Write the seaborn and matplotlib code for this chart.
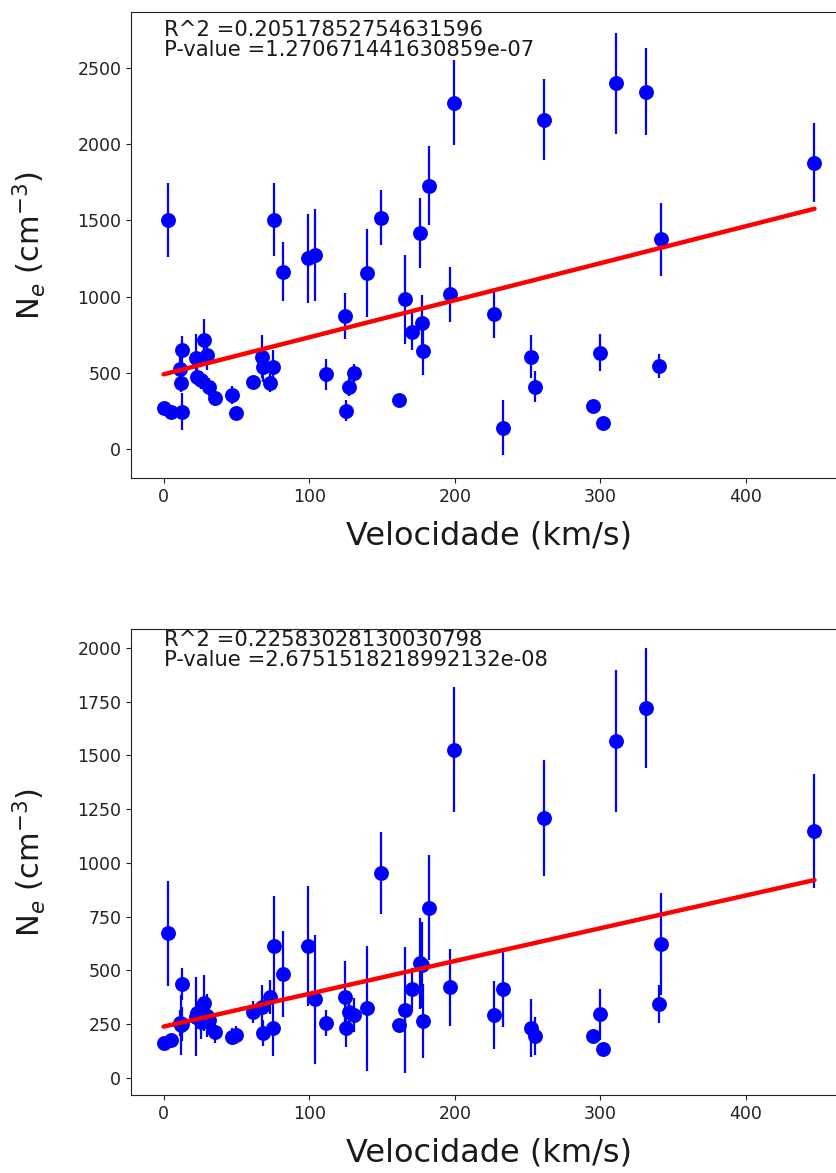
import numpy as np
import seaborn as sns
import matplotlib.pyplot as plt

# velocities (km/s), shared by both panels
velocidade = [0, 3, 5, 11, 12, 12.5, 13, 22, 23, 26, 28, 30, 31, 35.5, 47, 50,
              61.5, 67.5, 68.5, 73, 75.5, 76, 82, 99.5, 104, 111.5, 124.5, 125,
              127.5, 130.5, 139.5, 149.5, 161.5, 166, 170.5, 176, 177.5, 178,
              182, 196.5, 199.5, 227, 233, 252, 255, 261, 295, 299.5, 302,
              310.5, 331, 340.5, 341.5, 447]

# top panel: electron density and error
ne_top = [267, 1503, 245, 523, 435, 245, 650, 595, 474, 453, 715, 617, 409, 333,
          354, 238, 442, 606, 540, 435, 540, 1503, 1163, 1251, 1273, 490, 873,
          251, 409, 497, 1153, 1518, 322, 982, 770, 1419, 829, 645, 1728, 1015,
          2272, 886, 140, 606, 409, 2159, 282, 632, 170, 2399, 2345, 545, 1376,
          1879]
err_top = [15, 245, 15, 80, 60, 120, 90, 160, 60, 60, 140, 100, 60, 50, 60, 30,
           40, 140, 100, 60, 110, 240, 195, 290, 300, 100, 150, 70, 60, 60, 290,
           180, 25, 290, 120, 230, 180, 160, 260, 180, 280, 160, 180, 140, 100,
           265, 20, 120, 15, 330, 285, 80, 240, 260]

# bottom panel: electron density and error
ne_bot = [161, 673, 177, 255, 247, 250, 436, 285, 300, 260, 347, 290, 270, 215,
          192, 200, 308, 332, 208, 378, 231, 615, 484, 615, 367, 254, 375, 234,
          308, 293, 324, 952, 247, 316, 413, 533, 525, 265, 792, 422, 1526, 293,
          414, 234, 195, 1208, 195, 296, 137, 1567, 1720, 343, 622, 1149]
err_bot = [15, 243, 15, 60, 140, 80, 75, 185, 60, 80, 130, 100, 70, 50, 40, 40,
           50, 100, 60, 80, 130, 230, 200, 280, 300, 60, 170, 90, 80, 80, 290,
           190, 25, 295, 100, 210, 200, 170, 245, 180, 290, 160, 175, 135, 90,
           270, 20, 118, 15, 330, 280, 88, 237, 265]

# linear fits as drawn in the picture (intercept, slope)
fit_top = (490, 2.43)
fit_bot = (239, 1.525)

stats_top = "R^2 =0.20517852754631596\nP-value =1.270671441630859e-07"
stats_bot = "R^2 =0.22583028130030798\nP-value =2.6751518218992132e-08"

sns.set_style("ticks", {"axes.edgecolor": "#222222", "text.color": "#1a1a1a",
                        "axes.labelcolor": "#1a1a1a", "xtick.color": "#222222",
                        "ytick.color": "#222222"})

fig = plt.figure(figsize=(8.36, 11.73), dpi=100)
ax1 = fig.add_axes([0.1567, 0.5925, 0.8565, 0.3973])
ax2 = fig.add_axes([0.1567, 0.0665, 0.8565, 0.3973])

v = np.array(velocidade)
for ax, ne, err, fit, txt, ytxt in [(ax1, ne_top, err_top, fit_top, stats_top, 2580),
                                    (ax2, ne_bot, err_bot, fit_bot, stats_bot, 1914)]:
    ne = np.array(ne)
    ax.errorbar(v, ne, yerr=err, fmt='none', ecolor='blue', elinewidth=1.6)
    sns.scatterplot(x=v, y=ne, color='blue', s=115, linewidth=0, ax=ax, zorder=3)
    sns.lineplot(x=v, y=fit[0] + fit[1] * v, color='red', lw=3.2, ax=ax,
                 zorder=4)
    ax.text(0, ytxt, txt, fontsize=15.2, va='baseline', linespacing=1.0)
    ax.set_xlabel('Velocidade (km/s)', fontsize=23, labelpad=11)
    ax.set_ylabel('N$_e$ (cm$^{-3}$)', fontsize=22, labelpad=21)
    ax.tick_params(labelsize=12.5)
    ax.set_xticks([0, 100, 200, 300, 400])

ax1.set_ylim(-190, 2867)
ax2.set_ylim(-79, 2088)
ax2.set_yticks(np.arange(0, 2001, 250))

plt.savefig('out.png', dpi=100)
